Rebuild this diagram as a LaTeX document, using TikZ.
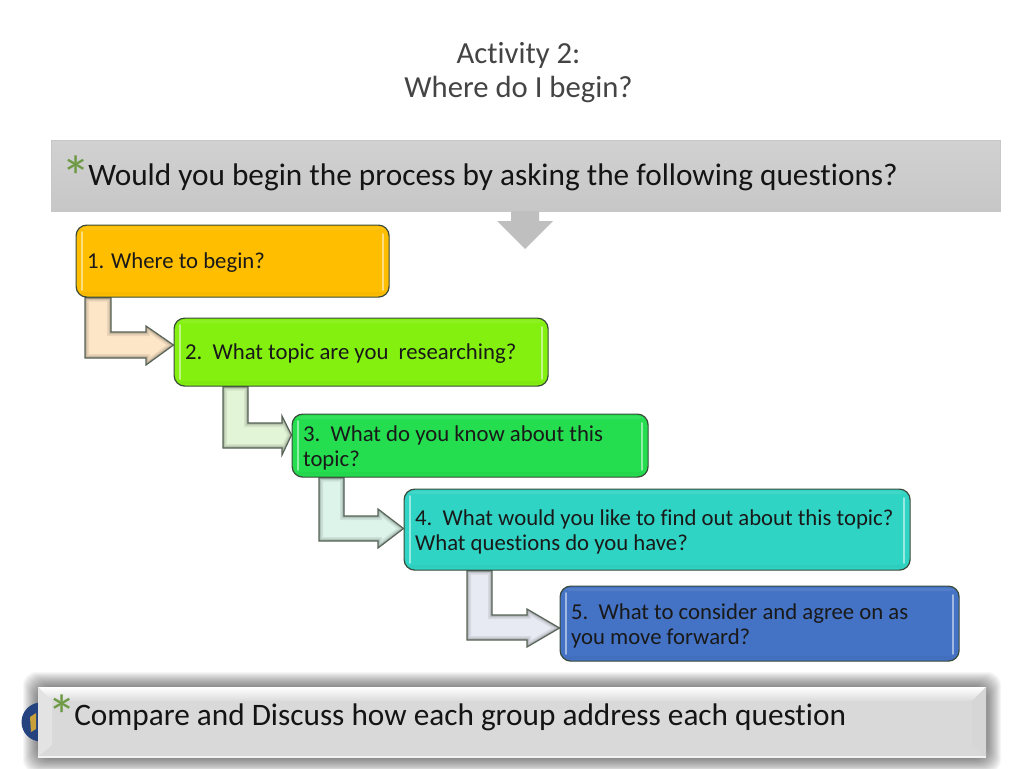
\documentclass[tikz,border=0pt]{standalone}
\usepackage{fontspec}
\setmainfont[Ligatures=NoCommon]{Carlito}
\usetikzlibrary{backgrounds,calc}
\definecolor{titlegray}{HTML}{444444}
\definecolor{stargreen}{HTML}{6E9A45}
\definecolor{edgedark}{HTML}{3A4A3A}
\definecolor{c1}{HTML}{FFBE00}
\definecolor{c2}{HTML}{84F00F}
\definecolor{c3}{HTML}{24DE4F}
\definecolor{c4}{HTML}{30D4C4}
\definecolor{c5}{HTML}{4472C4}
\definecolor{a1}{HTML}{FDE6C8}
\definecolor{a2}{HTML}{E2F5D6}
\definecolor{a3}{HTML}{DCF4EA}
\definecolor{a4}{HTML}{E8EAF3}
\definecolor{logoblue}{HTML}{24437F}
\definecolor{logogold}{HTML}{C9A13B}
\tikzset{
  x=0.75pt,y=-0.75pt,
  boxstyle/.style={draw=edgedark,line width=0.9pt,rounded corners=8pt,align=flush left,inner sep=0pt,font=\fontsize{17.05pt}{18.8pt}\selectfont,text=black!90},
  barrow/.style={draw=edgedark!85,line width=0.9pt,line join=miter},
  gloss/.style={white,line width=1.3pt,opacity=.5,line cap=round},
  bigtext/.style={inner sep=0pt,anchor=west,font=\fontsize{23.45pt}{27pt}\selectfont,text=black!92},
  staritem/.style={inner sep=0pt,text=stargreen,font=\fontsize{44pt}{44pt}\selectfont},
  titletext/.style={inner sep=0pt,text=titlegray,align=center,font=\fontsize{23pt}{25.6pt}\selectfont},
}
% name, x1,y1,x2,y2, colour, text
\newcommand{\qbox}[7]{%
  \node[boxstyle,fill=#6,anchor=north west,minimum width={(#4-#2)*0.75pt},minimum height={(#5-#3)*0.75pt},text width={(#4-#2-22)*0.75pt}] (#1) at (#2-0.5,#3-0.5) {\rule{0pt}{14.7pt}#7};
  \fill[white,opacity=.08,rounded corners=3pt] (#2+5,#3+2) rectangle (#4-5,#3+5);
  \fill[black,opacity=.03,rounded corners=3pt] (#2+5,#5-5) rectangle (#4-5,#5-2);
  \draw[gloss] (#2+6,#3+7) -- (#2+6,#5-7);
  \draw[gloss] (#4-6,#3+9) -- (#4-6,#5-7);
}
% source, target, L, R, T, B, H, headtop, headbottom, tip y, fill
\newcommand{\bentarrow}[9]{%
  \def\argsA{#1}\def\argsB{#2}\def\argsL{#3}\def\argsR{#4}\def\argsT{#5}\def\argsBt{#6}\def\argsH{#7}\def\argsHt{#8}\def\argsHb{#9}\bentarrowrest}
\newcommand{\bentarrowrest}[2]{%
  \begin{pgfonlayer}{background}
  \coordinate (pl) at (\argsL,0);
  \coordinate (pr) at (\argsR,0);
  \coordinate (py) at (0,#1);
  \coordinate (ptip) at (\argsB.west |- py);
  \def\arrowpath{(\argsA.south -| pl) -- (\argsA.south -| pr) -- (\argsR,\argsT) -- (\argsH,\argsT) -- (\argsH,\argsHt) -- (ptip) -- (\argsH,\argsHb) -- (\argsH,\argsBt) -- (\argsL,\argsBt) -- cycle}
  \fill[#2] \arrowpath;
  \begin{scope}
    \clip \arrowpath;
    \draw[black,opacity=.07,line width=6pt] \arrowpath;
    \draw[black,opacity=.09,line width=3.5pt] \arrowpath;
    \draw[black,opacity=.12,line width=2pt] \arrowpath;
  \end{scope}
  \draw[barrow] \arrowpath;
  \end{pgfonlayer}
}
\begin{document}
\begin{tikzpicture}
\useasboundingbox (0,0) rectangle (1024,768);
\begin{pgfonlayer}{background}
\fill[white] (0,0) rectangle (1024,768);
\end{pgfonlayer}

% title
\node[titletext] (title) at (518.5,73) {Activity 2:\\Where do I begin?};

% top banner
\node[draw=black!22,line width=.4pt,inner sep=0pt,top color=black!18,bottom color=black!22,anchor=north west,minimum width={948.5*0.75pt},minimum height={71*0.75pt}] (topbanner) at (51,140) {};
\fill[black!25] (511,211) -- (539,211) -- (539,221) -- (553,221) -- (525,249) -- (497,221) -- (511,221) -- cycle;
\node[staritem] (star1) at (76,177) {*};
\node[bigtext] (toptext) at (88,177) {Would you begin the process by asking the following questions?};

% boxes
\qbox{b1}{76}{225}{389}{297}{c1}{1. Where to begin?}
\qbox{b2}{174}{318}{548}{386}{c2}{2.\ \ What topic are you\ \ researching?}
\qbox{b3}{292}{414}{648}{477}{c3}{3.\ \ What do you know about this\\topic?}
\qbox{b4}{404}{489}{910}{570}{c4}{4.\ \ What would you like to find out about this topic?\\What questions do you have?}
\qbox{b5}{560}{586}{959}{661}{c5}{5.\ \ What to consider and agree on as\\you move forward?}

% bent arrows
\bentarrow{b1}{b2}{85}{111}{332}{358}{146}{326}{365}{345}{a1}
\bentarrow{b2}{b3}{223}{248}{423}{448}{282}{416}{455}{435}{a2}
\bentarrow{b3}{b4}{319}{344}{516}{541}{378}{509}{548}{528.5}{a3}
\bentarrow{b4}{b5}{467}{492}{615}{640}{527}{609}{647}{628}{a4}

% bottom banner
\begin{scope}
\clip (0,0) rectangle (1024,768);
\foreach \i in {1,...,15}{
  \fill[black,opacity=.036,rounded corners=10pt] (38-\i,687-\i) rectangle (986+\i,758+\i);
}
\end{scope}
\fill[logoblue] (41,722) circle (19.5);
\fill[logogold] (30,717) -- (36,713) -- (36,729) -- (31,732) -- cycle;
\node[inner sep=0pt,fill=black!15,anchor=north west,minimum width={948*0.75pt},minimum height={71*0.75pt}] (botbanner) at (38,687) {};
\shade[top color=white,bottom color=black!14] (38,687) -- (986,687) -- (972,701) -- (52,701) -- cycle;
\fill[black!11] (38,687) -- (52,701) -- (52,745) -- (38,757) -- cycle;
\fill[black!16] (986,687) -- (972,701) -- (972,745) -- (986,757) -- cycle;
\fill[black!5] (38,755.5) rectangle (986,758);
\node[staritem] (star2) at (62,716) {*};
\node[bigtext] (bottext) at (74,717) {Compare and Discuss how each group address each question};
\end{tikzpicture}
\end{document}
